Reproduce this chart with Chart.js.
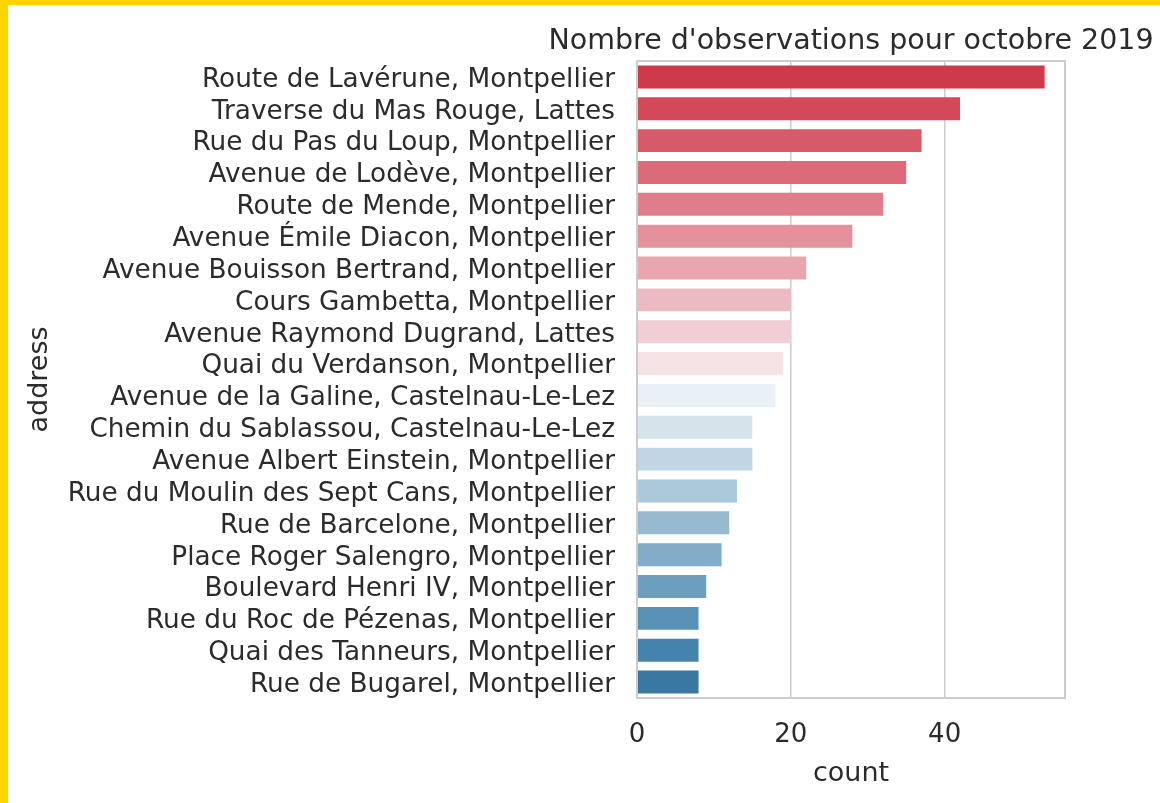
<!DOCTYPE html>
<html>
<head>
<meta charset="utf-8">
<script src="https://cdn.jsdelivr.net/npm/chart.js@4/dist/chart.umd.min.js"></script>
<style>
  html, body { margin: 0; padding: 0; }
  body { background: #ffd400; width: 1160px; height: 803px; overflow: hidden; position: relative; }
  #wrap { position: absolute; left: 8px; top: 5px; width: 1152px; height: 798px; background: #fff; }
</style>
</head>
<body>
<div id="wrap"><canvas id="bars" width="1152" height="798"></canvas></div>
<script>
// data
const addresses = [
  "Route de Lavérune, Montpellier",
  "Traverse du Mas Rouge, Lattes",
  "Rue du Pas du Loup, Montpellier",
  "Avenue de Lodève, Montpellier",
  "Route de Mende, Montpellier",
  "Avenue Émile Diacon, Montpellier",
  "Avenue Bouisson Bertrand, Montpellier",
  "Cours Gambetta, Montpellier",
  "Avenue Raymond Dugrand, Lattes",
  "Quai du Verdanson, Montpellier",
  "Avenue de la Galine, Castelnau-Le-Lez",
  "Chemin du Sablassou, Castelnau-Le-Lez",
  "Avenue Albert Einstein, Montpellier",
  "Rue du Moulin des Sept Cans, Montpellier",
  "Rue de Barcelone, Montpellier",
  "Place Roger Salengro, Montpellier",
  "Boulevard Henri IV, Montpellier",
  "Rue du Roc de Pézenas, Montpellier",
  "Quai des Tanneurs, Montpellier",
  "Rue de Bugarel, Montpellier"
];
const counts = [53, 42, 37, 35, 32, 28, 22, 20, 20, 19, 18, 15, 15, 13, 12, 11, 9, 8, 8, 8];
const xTicks = [0, 20, 40];

// red -> blue diverging palette
const palette = [
  "#cf3a4b", "#d3495a", "#d75a69", "#db6b79", "#df7e8a",
  "#e3929c", "#e8a6ae", "#ecbac1", "#f1ced3", "#f6e3e6",
  "#eaf1f6", "#d5e3ec", "#c1d6e4", "#acc8db", "#97bad1",
  "#82acc7", "#6d9ebe", "#5990b5", "#4583ac", "#3a78a2"
];

const textColor = "#2b2b2b";
const gridColor = "#cccccc";
const fontFam = "'DejaVu Sans', sans-serif";

const frameAndTitle = {
  id: 'frameAndTitle',
  afterDatasetsDraw(chart) {
    const { ctx, chartArea: a } = chart;
    ctx.save();
    ctx.strokeStyle = gridColor;
    ctx.lineWidth = 2;
    ctx.strokeRect(a.left, a.top, a.right - a.left, a.bottom - a.top);
    ctx.restore();
  },
  afterDraw(chart) {
    const { ctx, chartArea: a } = chart;
    ctx.save();
    ctx.font = "28.5px " + fontFam;
    ctx.fillStyle = textColor;
    ctx.textAlign = 'center';
    ctx.textBaseline = 'alphabetic';
    ctx.fillText("Nombre d'observations pour octobre 2019", (a.left + a.right) / 2, 44);
    ctx.restore();
  }
};

new Chart(document.getElementById('bars'), {
  type: 'bar',
  data: {
    labels: addresses,
    datasets: [{
      data: counts,
      backgroundColor: palette,
      barPercentage: 0.72,
      categoryPercentage: 1.0
    }]
  },
  options: {
    indexAxis: 'y',
    responsive: false,
    animation: false,
    layout: { padding: { top: 56, right: 95, left: 0, bottom: 0 } },
    plugins: { legend: { display: false }, tooltip: { enabled: false }, title: { display: false } },
    scales: {
      x: {
        min: 0,
        max: 55.65,
        afterFit(scale) { scale.height = 105; },
        afterBuildTicks(scale) { scale.ticks = xTicks.map(v => ({ value: v })); },
        grid: { color: gridColor, lineWidth: 1.5, drawTicks: false },
        border: { display: false },
        ticks: { color: textColor, font: { family: fontFam, size: 26 }, padding: 22 },
        title: { display: true, text: 'count', color: textColor, font: { family: fontFam, size: 27 }, padding: { top: 0, bottom: 13 } }
      },
      y: {
        afterFit(scale) { scale.width = 629; },
        grid: { display: false },
        border: { display: false },
        ticks: { color: textColor, font: { family: fontFam, size: 26.3 }, padding: 14, labelOffset: 3, autoSkip: false },
        title: { display: true, text: 'address', color: textColor, font: { family: fontFam, size: 27 }, padding: { top: 16, bottom: 0 } }
      }
    }
  },
  plugins: [frameAndTitle]
});
</script>
</body>
</html>
